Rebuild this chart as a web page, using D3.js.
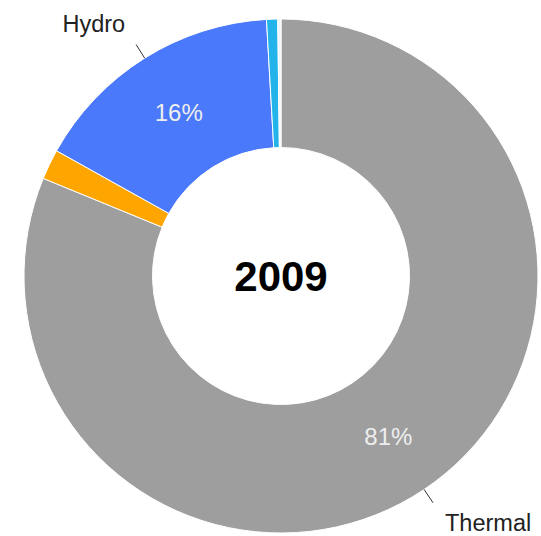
<!DOCTYPE html>
<html>
<head>
<meta charset="utf-8">
<script src="https://cdn.jsdelivr.net/npm/d3@7"></script>
<style>
  html, body { margin: 0; padding: 0; background: #ffffff; }
  svg { display: block; font-family: "Liberation Sans", Arial, sans-serif; }
</style>
</head>
<body>
<div id="chart"></div>
<script>
// Data (shares of generation, %)
const categories = ["Thermal", "Nuclear", "Hydro", "Wind", "Other"];
const values = [81.2, 1.9, 16.0, 0.7, 0.2];
const colors = ["#9e9e9e", "#ffa500", "#4a79fb", "#22b3ea", "#eef6fb"];
const centerTitle = "2009";
const labelMinShare = 5; // slices below this share get no text

const W = 541, H = 536;
const cx = 281, cy = 276;
const outerR = 257, innerR = 128.5;

const svg = d3.select("#chart").append("svg")
  .attr("width", W).attr("height", H);

const g = svg.append("g").attr("transform", `translate(${cx},${cy})`);

const total = d3.sum(values);
const data = categories.map((c, i) => ({ name: c, value: values[i], color: colors[i] }));

const pie = d3.pie().sort(null).value(d => d.value).startAngle(0).endAngle(2 * Math.PI);
const arcs = pie(data);

const arc = d3.arc().innerRadius(innerR).outerRadius(outerR);
const midArc = d3.arc().innerRadius((innerR + outerR) / 2).outerRadius((innerR + outerR) / 2);

g.selectAll("path.slice").data(arcs).enter().append("path")
  .attr("class", "slice")
  .attr("d", arc)
  .attr("fill", d => d.data.color)
  .attr("stroke", "#ffffff")
  .attr("stroke-width", 1);

// percentage text inside slices
g.selectAll("text.pct").data(arcs.filter(d => d.data.value / total * 100 >= labelMinShare))
  .enter().append("text")
  .attr("class", "pct")
  .attr("transform", d => `translate(${midArc.centroid(d)})`)
  .attr("text-anchor", "middle")
  .attr("dy", "0.36em")
  .attr("font-size", 24)
  .attr("fill", "#eeeeee")
  .text(d => Math.round(d.data.value / total * 100) + "%");

// outside labels with short leader lines
const labeled = arcs.filter(d => d.data.value / total * 100 >= labelMinShare);
labeled.forEach(d => {
  const a = (d.startAngle + d.endAngle) / 2;
  const sx = Math.sin(a), sy = -Math.cos(a);
  const p1 = [sx * outerR, sy * outerR];
  const p2 = [sx * (outerR + 16), sy * (outerR + 16)];
  g.append("line")
    .attr("x1", p1[0]).attr("y1", p1[1])
    .attr("x2", p2[0]).attr("y2", p2[1])
    .attr("stroke", "#333333").attr("stroke-width", 1);
  const right = sx > 0;
  const top = sy < 0;
  g.append("text")
    .attr("x", p2[0] + (right ? 12 : -11))
    .attr("y", p2[1] + (top ? -13 : 28))
    .attr("text-anchor", right ? "start" : "end")
    .attr("font-size", 23.5)
    .attr("fill", "#222222")
    .text(d.data.name);
});

// center title
g.append("text")
  .attr("text-anchor", "middle")
  .attr("dy", "0.36em")
  .attr("font-size", 42)
  .attr("font-weight", "bold")
  .attr("fill", "#000000")
  .text(centerTitle);
</script>
</body>
</html>
